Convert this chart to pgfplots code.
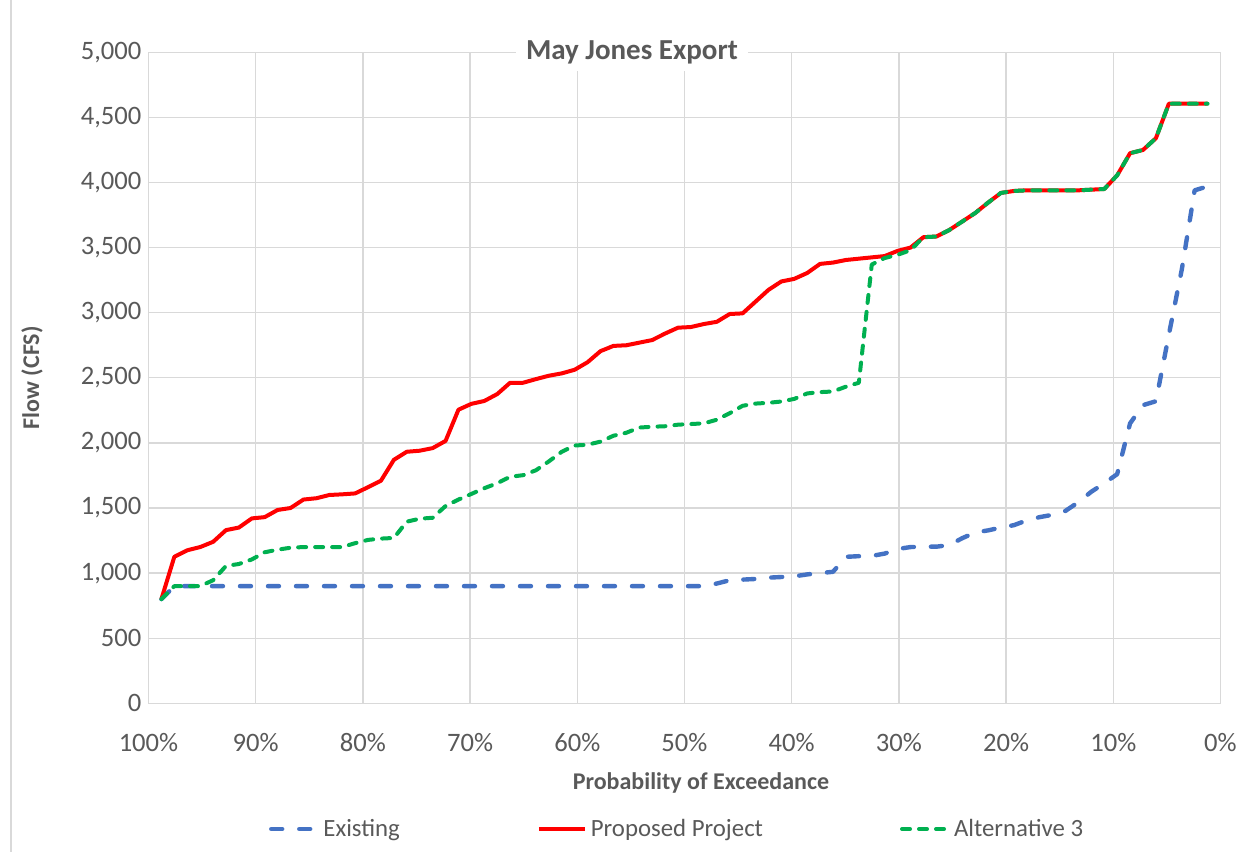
\documentclass[border=0pt]{standalone}
\usepackage{pgfplots}
\pgfplotsset{compat=1.18}
\usepackage{pgfplotstable}
\usepackage{fontspec}
\setmainfont{Carlito}
\definecolor{txt}{HTML}{595959}
\definecolor{gridc}{HTML}{D9D9D9}
\definecolor{exblue}{HTML}{4472C4}
\definecolor{ppred}{HTML}{FF0000}
\definecolor{altgreen}{HTML}{00B050}
\pgfplotstableread{
x ex pp alt
98.795 800 800 800
97.590 900 1125 900
96.386 900 1175 900
95.181 900 1200 900
93.976 900 1240 945
92.771 900 1330 1055
91.566 900 1350 1070
90.361 900 1420 1105
89.157 900 1430 1160
87.952 900 1485 1180
86.747 900 1500 1195
85.542 900 1565 1200
84.337 900 1575 1200
83.133 900 1600 1200
81.928 900 1605 1200
80.723 900 1612 1230
79.518 900 1660 1255
78.313 900 1710 1265
77.108 900 1870 1270
75.904 900 1932 1395
74.699 900 1940 1418
73.494 900 1960 1425
72.289 900 2015 1515
71.084 900 2255 1565
69.880 900 2300 1608
68.675 900 2322 1652
67.470 900 2375 1690
66.265 900 2462 1740
65.060 900 2462 1752
63.855 900 2490 1790
62.651 900 2516 1858
61.446 900 2534 1932
60.241 900 2562 1980
59.036 900 2620 1986
57.831 900 2705 2010
56.627 900 2745 2055
55.422 900 2750 2078
54.217 900 2770 2118
53.012 900 2790 2124
51.807 900 2840 2128
50.602 900 2885 2140
49.398 900 2890 2145
48.193 900 2913 2150
46.988 920 2930 2178
45.783 945 2990 2228
44.578 950 2995 2285
43.373 955 3085 2302
42.169 965 3175 2308
40.964 970 3240 2318
39.759 975 3260 2338
38.554 990 3305 2380
37.349 1000 3375 2390
36.145 1010 3385 2395
34.940 1125 3405 2432
33.735 1130 3415 2462
32.530 1132 3425 3370
31.325 1150 3435 3420
30.120 1185 3475 3445
28.916 1200 3500 3480
27.711 1203 3580 3580
26.506 1203 3585 3585
25.301 1215 3635 3635
24.096 1268 3700 3700
22.892 1312 3765 3765
21.687 1328 3845 3845
20.482 1350 3920 3920
19.277 1368 3935 3935
18.072 1405 3940 3940
16.867 1430 3940 3940
15.663 1448 3940 3940
14.458 1478 3940 3940
13.253 1545 3940 3940
12.048 1625 3945 3945
10.843 1690 3950 3950
9.639 1760 4055 4055
8.434 2150 4225 4225
7.229 2290 4250 4250
6.024 2320 4340 4340
4.819 2830 4605 4605
3.614 3330 4605 4605
2.410 3940 4605 4605
1.205 3970 4605 4605
}\datatable
\begin{document}
\begin{tikzpicture}
\path[use as bounding box] (-74.25pt,-74.35pt) rectangle (544.75pt,351.65pt);
\draw[gridc, line width=0.6pt] (-68.75pt,-74.35pt) -- (-68.75pt,351.65pt);
\begin{axis}[
  at={(0pt,0pt)}, anchor=south west,
  scale only axis, width=536pt, height=325.5pt,
  xmin=0, xmax=100, ymin=0, ymax=5000,
  x dir=reverse,
  xtick={0,10,...,100}, ytick={0,500,...,5000},
  xticklabel={\pgfmathprintnumber{\tick}\%},
  /pgf/number format/.cd, 1000 sep={,}, assume math mode=true, /pgfplots/.cd,
  major tick length=0pt,
  grid=major,
  major grid style={gridc, line width=0.65pt},
  axis line style={draw=gridc, line width=0.7pt},
  tick label style={font=\fontsize{13.3}{15}\selectfont, text=txt},
  xticklabel style={anchor=base, yshift=-24pt},
  title={May Jones Export},
  every axis title/.style={at={(axis description cs:0.451,1.0)}, anchor=center, fill=white, inner xsep=5pt, font=\fontsize{14.5}{17}\selectfont\bfseries, text=txt},
  xlabel={Probability of Exceedance},
  ylabel={Flow (CFS)},
  xlabel style={at={(axis description cs:0.5154,-0.1224)}, anchor=center, font=\fontsize{12}{14}\selectfont\bfseries, text=txt},
  ylabel style={at={(axis description cs:-0.1087,0.5)}, anchor=center, font=\fontsize{12}{14}\selectfont\bfseries, text=txt},
  legend columns=3,
  legend image code/.code={\draw[#1] (0pt,0pt) -- (23pt,0pt);},
  legend style={at={(axis description cs:0.494,-0.1931)}, anchor=center, draw=none, fill=none,
    font=\fontsize{12.4}{14}\selectfont, text=txt,
    /tikz/column 2/.style={column sep=66.5pt},
    /tikz/column 4/.style={column sep=66.5pt}},
]
\addplot[exblue, line width=2.2pt, line cap=round, line join=round, dash pattern=on 5.5pt off 8.5pt] table[x=x, y=ex] {\datatable};
\addlegendentry{Existing}
\addplot[ppred, line width=2pt, line join=round] table[x=x, y=pp] {\datatable};
\addlegendentry{Proposed Project}
\addplot[altgreen, line width=2pt, line cap=round, line join=round, dash pattern=on 4pt off 4.5pt] table[x=x, y=alt] {\datatable};
\addlegendentry{Alternative 3}
\end{axis}
\end{tikzpicture}
\end{document}
